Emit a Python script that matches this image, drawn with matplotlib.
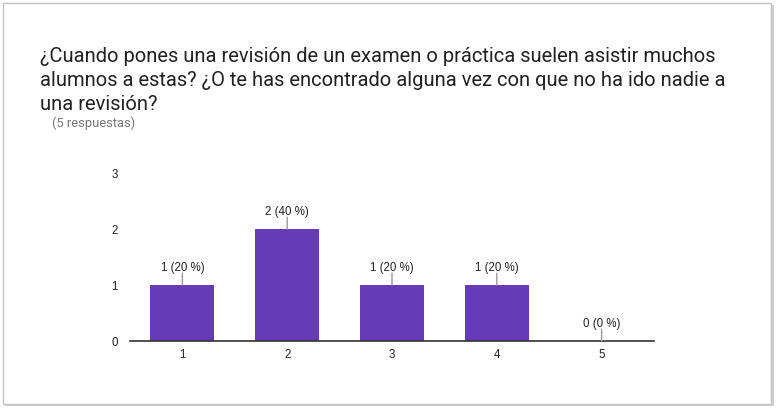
import matplotlib
matplotlib.use("Agg")
import matplotlib.pyplot as plt
from matplotlib.patches import Rectangle

categories = ["1", "2", "3", "4", "5"]
counts = [1, 2, 1, 1, 0]
percents = [20, 40, 20, 20, 0]
yticks = [0, 1, 2, 3]
title = ("¿Cuando pones una revisión de un examen o práctica suelen asistir muchos\n"
         "alumnos a estas? ¿O te has encontrado alguna vez con que no ha ido nadie a\n"
         "una revisión?")
subtitle = "(5 respuestas)"

plt.rcParams['font.family'] = ['Liberation Sans', 'DejaVu Sans']

W, H = 778, 408
fig = plt.figure(figsize=(W / 100, H / 100), dpi=100)
fig.patch.set_facecolor("white")

# card border with shadow
fig.patches.append(Rectangle((5 / W, 2 / H), 769 / W, 401 / H, transform=fig.transFigure,
                             facecolor="#d0d0d0", edgecolor="none", zorder=-2))
fig.patches.append(Rectangle((3 / W, 4 / H), 768 / W, 401 / H, transform=fig.transFigure,
                             facecolor="white", edgecolor="#c4c4c4", linewidth=1, zorder=-1))

fig.text(40 / W, 1 - 110 / H, title, fontsize=14.5, color="#212121", va="baseline", ha="left",
         linespacing=1.33, family=["Roboto", "DejaVu Sans"])
fig.text(52 / W, 1 - 127 / H, subtitle, fontsize=9.3, color="#757575", va="baseline",
         ha="left", family=["Roboto", "DejaVu Sans"])

ax = fig.add_axes([130 / W, 67 / H, 524 / W, 168 / H])
ax.set_zorder(2)
ax.set_facecolor("none")
x = list(range(len(categories)))
ax.bar(x, counts, width=0.61, color="#673ab7", zorder=2)
ax.set_xlim(-0.5, len(categories) - 0.5)
ax.set_ylim(0, 3)
ax.set_yticks(yticks)
ax.set_yticklabels([str(t) for t in yticks])
ax.set_xticks(x)
ax.set_xticklabels(categories)
for s in ["top", "right", "left"]:
    ax.spines[s].set_visible(False)
ax.spines["bottom"].set_color("#333333")
ax.spines["bottom"].set_linewidth(1.2)
ax.tick_params(axis="both", length=0, labelsize=8.3, colors="#222222")
ax.tick_params(axis="y", pad=9)
ax.tick_params(axis="x", pad=6)

for xi, c, p in zip(x, counts, percents):
    ax.annotate("", xy=(xi, c), xytext=(0, 8.5), textcoords="offset points",
                arrowprops=dict(arrowstyle="-", color="#999999", lw=1,
                                shrinkA=0, shrinkB=0))
    ax.annotate(f"{c} ({p} %)", xy=(xi, c), xytext=(0, 8), textcoords="offset points",
                ha="center", va="bottom", fontsize=8.3, color="#222222")

fig.savefig("out.png", dpi=100, facecolor="white")
